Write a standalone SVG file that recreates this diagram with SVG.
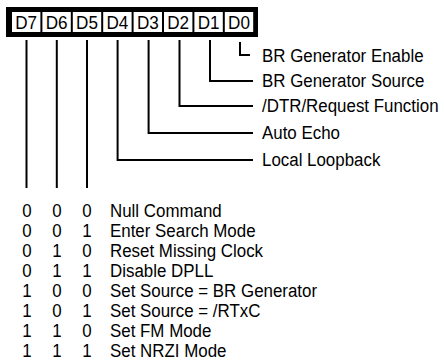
<svg xmlns="http://www.w3.org/2000/svg" width="444" height="363" viewBox="0 0 444 363">
<style>
text{font-family:"Liberation Sans",Arial,sans-serif;font-size:19px;fill:#000}
.cell{fill:#fff}
.ct{font-size:19px;text-anchor:middle}
.d{text-anchor:middle}
.w{fill:none;stroke:#000;stroke-width:2}
</style>
<rect width="444" height="363" fill="#fff"/>
<g id="register">
<rect x="6" y="7" width="252" height="30" fill="#000"/>
<g id="b7"><rect class="cell" x="12" y="12" width="28.4" height="20"/><text class="ct" transform="translate(26.2 29) scale(0.9 1)">D7</text></g>
<g id="b6"><rect class="cell" x="42.4" y="12" width="28.4" height="20"/><text class="ct" transform="translate(56.6 29) scale(0.9 1)">D6</text></g>
<g id="b5"><rect class="cell" x="72.8" y="12" width="28.4" height="20"/><text class="ct" transform="translate(87 29) scale(0.9 1)">D5</text></g>
<g id="b4"><rect class="cell" x="103.2" y="12" width="28.4" height="20"/><text class="ct" transform="translate(117.4 29) scale(0.9 1)">D4</text></g>
<g id="b3"><rect class="cell" x="133.6" y="12" width="28.4" height="20"/><text class="ct" transform="translate(147.8 29) scale(0.9 1)">D3</text></g>
<g id="b2"><rect class="cell" x="164" y="12" width="28.4" height="20"/><text class="ct" transform="translate(178.2 29) scale(0.9 1)">D2</text></g>
<g id="b1"><rect class="cell" x="194.4" y="12" width="28.4" height="20"/><text class="ct" transform="translate(208.6 29) scale(0.9 1)">D1</text></g>
<g id="b0"><rect class="cell" x="224.8" y="12" width="28.4" height="20"/><text class="ct" transform="translate(239 29) scale(0.9 1)">D0</text></g>
</g>
<g id="connectors">
<path class="w" d="M26.5 40V188"/>
<path class="w" d="M56.8 40V188"/>
<path class="w" d="M87 40V188"/>
<path class="w" d="M117.6 40V160H253"/>
<path class="w" d="M148.6 40V133H253"/>
<path class="w" d="M179.5 40V106H253"/>
<path class="w" d="M210 40V81H253"/>
<path class="w" d="M240 42V55H250"/>
</g>
<g id="l0"><text transform="translate(262 62) scale(0.89 1)">BR Generator Enable</text></g>
<g id="l1"><text transform="translate(262 87) scale(0.89 1)">BR Generator Source</text></g>
<g id="l2"><text transform="translate(262 112) scale(0.89 1)">/DTR/Request Function</text></g>
<g id="l3"><text transform="translate(262 139) scale(0.89 1)">Auto Echo</text></g>
<g id="l4"><text transform="translate(262 166) scale(0.89 1)">Local Loopback</text></g>
<g id="table">
<g id="r0"><text class="d" transform="translate(27 217) scale(0.89 1)">0</text><text class="d" transform="translate(57 217) scale(0.89 1)">0</text><text class="d" transform="translate(87 217) scale(0.89 1)">0</text><text transform="translate(110 217) scale(0.89 1)">Null Command</text></g>
<g id="r1"><text class="d" transform="translate(27 237) scale(0.89 1)">0</text><text class="d" transform="translate(57 237) scale(0.89 1)">0</text><text class="d" transform="translate(87 237) scale(0.89 1)">1</text><text transform="translate(110 237) scale(0.89 1)">Enter Search Mode</text></g>
<g id="r2"><text class="d" transform="translate(27 257) scale(0.89 1)">0</text><text class="d" transform="translate(57 257) scale(0.89 1)">1</text><text class="d" transform="translate(87 257) scale(0.89 1)">0</text><text transform="translate(110 257) scale(0.89 1)">Reset Missing Clock</text></g>
<g id="r3"><text class="d" transform="translate(27 277) scale(0.89 1)">0</text><text class="d" transform="translate(57 277) scale(0.89 1)">1</text><text class="d" transform="translate(87 277) scale(0.89 1)">1</text><text transform="translate(110 277) scale(0.89 1)">Disable DPLL</text></g>
<g id="r4"><text class="d" transform="translate(27 297) scale(0.89 1)">1</text><text class="d" transform="translate(57 297) scale(0.89 1)">0</text><text class="d" transform="translate(87 297) scale(0.89 1)">0</text><text transform="translate(110 297) scale(0.89 1)">Set Source = BR Generator</text></g>
<g id="r5"><text class="d" transform="translate(27 317) scale(0.89 1)">1</text><text class="d" transform="translate(57 317) scale(0.89 1)">0</text><text class="d" transform="translate(87 317) scale(0.89 1)">1</text><text transform="translate(110 317) scale(0.89 1)">Set Source = /RTxC</text></g>
<g id="r6"><text class="d" transform="translate(27 337) scale(0.89 1)">1</text><text class="d" transform="translate(57 337) scale(0.89 1)">1</text><text class="d" transform="translate(87 337) scale(0.89 1)">0</text><text transform="translate(110 337) scale(0.89 1)">Set FM Mode</text></g>
<g id="r7"><text class="d" transform="translate(27 357) scale(0.89 1)">1</text><text class="d" transform="translate(57 357) scale(0.89 1)">1</text><text class="d" transform="translate(87 357) scale(0.89 1)">1</text><text transform="translate(110 357) scale(0.89 1)">Set NRZI Mode</text></g>
</g>
</svg>
